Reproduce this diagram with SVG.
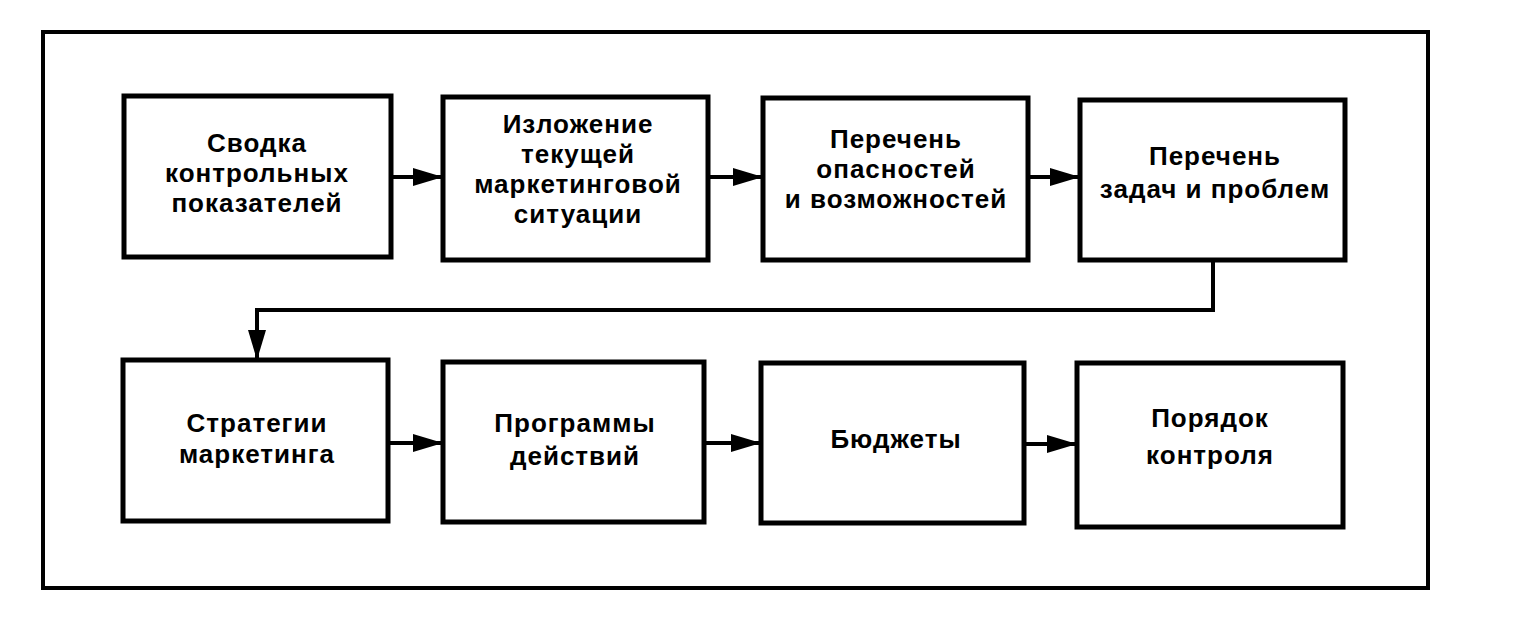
<svg xmlns="http://www.w3.org/2000/svg" width="1520" height="624" viewBox="0 0 1520 624">
<defs>
<marker id="ah" markerWidth="30" markerHeight="18" refX="30" refY="9" orient="auto" markerUnits="userSpaceOnUse">
<path d="M0,0 L30,9 L0,18 Z" fill="#000"/>
</marker>
<style>
.box{fill:#fff;stroke:#000;stroke-width:5;}
.frame{fill:#fff;stroke:#000;stroke-width:4;}
.t{font-family:"Liberation Sans",Arial,sans-serif;font-size:26px;font-weight:bold;letter-spacing:1px;fill:#000;text-anchor:middle;}
.c{fill:none;stroke:#000;stroke-width:4;}
</style>
</defs>
<rect width="1520" height="624" fill="#fff"/>
<rect class="frame" x="43" y="32" width="1385" height="556"/>
<g id="connectors">
<line class="c" x1="391" y1="177" x2="443" y2="177" marker-end="url(#ah)"/>
<line class="c" x1="708" y1="177" x2="763" y2="177" marker-end="url(#ah)"/>
<line class="c" x1="1028" y1="177" x2="1080" y2="177" marker-end="url(#ah)"/>
<polyline class="c" points="1213,260 1213,310 257,310 257,360" marker-end="url(#ah)"/>
<line class="c" x1="388" y1="443" x2="443" y2="443" marker-end="url(#ah)"/>
<line class="c" x1="704" y1="443" x2="761" y2="443" marker-end="url(#ah)"/>
<line class="c" x1="1024" y1="444" x2="1077" y2="444" marker-end="url(#ah)"/>
</g>
<g id="n1">
<rect class="box" x="124" y="96" width="267" height="161"/>
<text class="t"><tspan x="257" y="152">Сводка</tspan><tspan x="257" y="182">контрольных</tspan><tspan x="257" y="212">показателей</tspan></text>
</g>
<g id="n2">
<rect class="box" x="443" y="97" width="265" height="163"/>
<text class="t"><tspan x="578" y="133">Изложение</tspan><tspan x="578" y="163">текущей</tspan><tspan x="578" y="193">маркетинговой</tspan><tspan x="578" y="223">ситуации</tspan></text>
</g>
<g id="n3">
<rect class="box" x="763" y="98" width="265" height="162"/>
<text class="t"><tspan x="896" y="148">Перечень</tspan><tspan x="896" y="178">опасностей</tspan><tspan x="896" y="208">и возможностей</tspan></text>
</g>
<g id="n4">
<rect class="box" x="1080" y="100" width="265" height="160"/>
<text class="t"><tspan x="1215" y="165">Перечень</tspan><tspan x="1215" y="198">задач и проблем</tspan></text>
</g>
<g id="n5">
<rect class="box" x="123" y="360" width="265" height="161"/>
<text class="t"><tspan x="257" y="432">Стратегии</tspan><tspan x="257" y="463">маркетинга</tspan></text>
</g>
<g id="n6">
<rect class="box" x="443" y="362" width="261" height="160"/>
<text class="t"><tspan x="575" y="432">Программы</tspan><tspan x="575" y="465">действий</tspan></text>
</g>
<g id="n7">
<rect class="box" x="761" y="363" width="263" height="160"/>
<text class="t"><tspan x="896" y="448">Бюджеты</tspan></text>
</g>
<g id="n8">
<rect class="box" x="1077" y="363" width="266" height="164"/>
<text class="t"><tspan x="1210" y="427">Порядок</tspan><tspan x="1210" y="464">контроля</tspan></text>
</g>
</svg>
